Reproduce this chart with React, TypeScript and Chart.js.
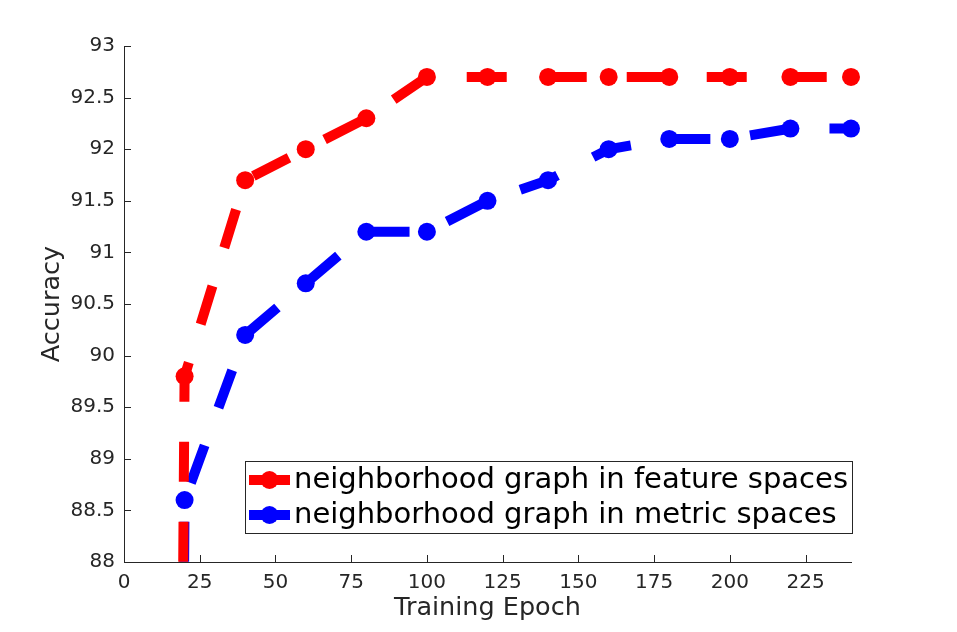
import { useEffect, useRef } from "react";
import { Chart, registerables } from "chart.js";

Chart.register(...registerables);

// ---- data ----
const epochs = [0, 20, 40, 60, 80, 100, 120, 140, 160, 180, 200, 220, 240];
const featureAcc = [10, 89.8, 91.7, 92.0, 92.3, 92.7, 92.7, 92.7, 92.7, 92.7, 92.7, 92.7, 92.7];
const metricAcc = [10, 88.6, 90.2, 90.7, 91.2, 91.2, 91.5, 91.7, 92.0, 92.1, 92.1, 92.2, 92.2];
const seriesLabels = [
  "neighborhood graph in feature spaces",
  "neighborhood graph in metric spaces",
];
const seriesColors = ["#ff0000", "#0000ff"];
const xTickValues = [0, 25, 50, 75, 100, 125, 150, 175, 200, 225];
const yTickValues = [88, 88.5, 89, 89.5, 90, 90.5, 91, 91.5, 92, 92.5, 93];
const xTitle = "Training Epoch";
const yTitle = "Accuracy";

const AXIS = "#262626";
const FONT = "DejaVu Sans";

const inwardTicks = {
  id: "inwardTicks",
  afterDraw(chart: any) {
    const { ctx, chartArea: a } = chart;
    const sx = chart.scales.x;
    const sy = chart.scales.y;
    ctx.save();
    ctx.strokeStyle = AXIS;
    ctx.lineWidth = 1;
    ctx.beginPath();
    for (const v of xTickValues) {
      const px = Math.round(sx.getPixelForValue(v)) + 0.5;
      ctx.moveTo(px, a.bottom);
      ctx.lineTo(px, a.bottom - 7);
    }
    for (const v of yTickValues) {
      const py = Math.round(sy.getPixelForValue(v)) + 0.5;
      ctx.moveTo(a.left, py);
      ctx.lineTo(a.left + 7, py);
    }
    ctx.stroke();
    ctx.restore();
  },
};

const legendBox = {
  id: "legendBox",
  afterDraw(chart: any) {
    const { ctx } = chart;
    const bx = 245.5, by = 461.5, bw = 607, bh = 72;
    ctx.save();
    ctx.fillStyle = "#ffffff";
    ctx.fillRect(bx, by, bw, bh);
    ctx.strokeStyle = AXIS;
    ctx.lineWidth = 1;
    ctx.strokeRect(bx, by, bw, bh);
    chart.data.datasets.forEach((ds: any, i: number) => {
      const y = 480 + i * 35;
      ctx.strokeStyle = ds.borderColor;
      ctx.lineWidth = 10;
      ctx.setLineDash([]);
      ctx.lineCap = "butt";
      ctx.beginPath();
      ctx.moveTo(249, y);
      ctx.lineTo(290, y);
      ctx.stroke();
      ctx.fillStyle = ds.borderColor;
      ctx.beginPath();
      ctx.arc(269.5, y, 9, 0, Math.PI * 2);
      ctx.fill();
      ctx.fillStyle = "#000000";
      ctx.font = `29px "${FONT}"`;
      ctx.textBaseline = "middle";
      ctx.textAlign = "left";
      ctx.fillText(ds.label, 294, y);
    });
    ctx.restore();
  },
};

export default function App() {
  const ref = useRef<HTMLCanvasElement>(null);
  useEffect(() => {
    const canvas = ref.current!;
    Chart.defaults.font.family = FONT;
    const chart = new Chart(canvas, {
      type: "line",
      data: {
        datasets: [featureAcc, metricAcc].map((vals, i) => ({
          label: seriesLabels[i],
          data: epochs.map((e, j) => ({ x: e, y: vals[j] })),
          borderColor: seriesColors[i],
          backgroundColor: seriesColors[i],
          borderWidth: 10,
          borderDash: [40, 40],
          borderDashOffset: 30,
          borderCapStyle: "butt",
          borderJoinStyle: "miter",
          pointRadius: 9,
          pointHoverRadius: 9,
          pointBorderWidth: 0,
          pointBackgroundColor: seriesColors[i],
          tension: 0,
          fill: false,
          clip: { left: 0, top: 20, right: 20, bottom: 0 },
        })),
      } as any,
      options: {
        responsive: false,
        animation: false,
        events: [],
        layout: { padding: { top: 46, right: 106, left: 0, bottom: 0 } },
        plugins: { legend: { display: false }, tooltip: { enabled: false } },
        scales: {
          x: {
            type: "linear",
            min: 0,
            max: 240,
            afterFit: (s: any) => {
              s.height = 70;
            },
            afterBuildTicks: (s: any) => {
              s.ticks = xTickValues.map((v) => ({ value: v }));
            },
            grid: { display: false, drawTicks: false },
            border: { display: true, color: AXIS, width: 1 },
            ticks: {
              color: AXIS,
              font: { size: 20 },
              padding: 9,
              maxRotation: 0,
              autoSkip: false,
              callback: (v: any) => String(v),
            },
            title: {
              display: true,
              text: xTitle,
              color: AXIS,
              font: { size: 25.5, lineHeight: 1.2 },
              padding: { top: 0, bottom: 8 },
            },
          },
          y: {
            type: "linear",
            min: 88,
            max: 93,
            afterFit: (s: any) => {
              s.width = 124;
            },
            afterBuildTicks: (s: any) => {
              s.ticks = yTickValues.map((v) => ({ value: v }));
            },
            grid: { display: false, drawTicks: false },
            border: { display: true, color: AXIS, width: 1 },
            ticks: {
              color: AXIS,
              font: { size: 20 },
              padding: 9,
              autoSkip: false,
              callback: (v: any) => String(v),
            },
            title: {
              display: true,
              text: yTitle,
              color: AXIS,
              font: { size: 25.5, lineHeight: 1.2 },
              padding: { top: 37, bottom: 0 },
            },
          },
        },
      } as any,
      plugins: [inwardTicks, legendBox],
    });
    return () => chart.destroy();
  }, []);
  return (
    <div
      style={{
        position: "absolute",
        left: 0,
        top: 0,
        width: 957,
        height: 632,
        background: "#ffffff",
      }}
    >
      <canvas
        ref={ref}
        width={957}
        height={632}
        style={{ width: 957, height: 632, display: "block" }}
      />
    </div>
  );
}
